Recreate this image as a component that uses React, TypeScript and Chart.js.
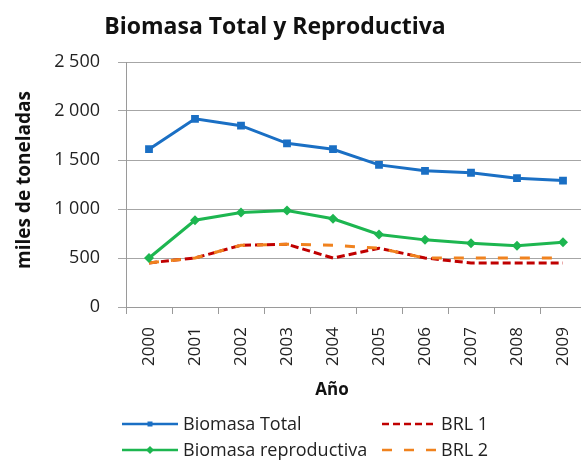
import React, { useEffect, useRef } from "react";
import { Chart, registerables } from "chart.js";

Chart.register(...registerables);

const years = ["2000", "2001", "2002", "2003", "2004", "2005", "2006", "2007", "2008", "2009"];
const biomasaTotal = [1610, 1920, 1850, 1670, 1610, 1450, 1390, 1370, 1315, 1290];
const biomasaReproductiva = [500, 885, 965, 985, 900, 740, 685, 650, 625, 660];
const brl1 = [450, 500, 630, 640, 500, 600, 500, 450, 450, 450];
const brl2 = [450, 500, 630, 640, 630, 600, 500, 500, 500, 500];
const yTicks = [0, 500, 1000, 1500, 2000, 2500];

const FONT = "'Open Sans', 'Noto Sans', sans-serif";
const BLUE = "#1A6FC4";
const GREEN = "#1DB650";
const RED = "#C00000";
const ORANGE = "#F0821E";

function fmt(v: number): string {
  const s = String(v);
  if (s.length > 3) return s.slice(0, s.length - 3) + " " + s.slice(s.length - 3);
  return s;
}

export default function App() {
  const ref = useRef<HTMLCanvasElement | null>(null);

  useEffect(() => {
    if (!ref.current) return;
    const chart = new Chart(ref.current, {
      type: "line",
      data: {
        labels: years,
        datasets: [
          {
            label: "Biomasa Total",
            data: biomasaTotal,
            borderColor: BLUE,
            backgroundColor: BLUE,
            borderWidth: 3,
            pointStyle: "rect",
            pointRadius: 5.5,
            pointBorderWidth: 0,
            order: 1,
          },
          {
            label: "Biomasa reproductiva",
            data: biomasaReproductiva,
            borderColor: GREEN,
            backgroundColor: GREEN,
            borderWidth: 3,
            pointStyle: "rectRot",
            pointRadius: 5,
            pointBorderWidth: 0,
            order: 2,
          },
          {
            label: "BRL 1",
            data: brl1,
            borderColor: RED,
            backgroundColor: RED,
            borderWidth: 3,
            borderDash: [8, 4],
            pointRadius: 0,
            order: 4,
          },
          {
            label: "BRL 2",
            data: brl2,
            borderColor: ORANGE,
            backgroundColor: ORANGE,
            borderWidth: 3,
            borderDash: [10, 12],
            pointRadius: 0,
            order: 3,
          },
        ],
      },
      options: {
        responsive: false,
        animation: false,
        layout: { padding: { left: 0, right: 14, top: 62, bottom: 0 } },
        plugins: {
          legend: { display: false },
          title: { display: false },
          tooltip: { enabled: false },
        },
        scales: {
          x: {
            offset: true,
            grid: {
              offset: true,
              drawOnChartArea: false,
              drawTicks: true,
              tickLength: 7,
              color: "#9a9a9a",
            },
            border: { color: "#9a9a9a", width: 1 },
            ticks: {
              minRotation: 90,
              maxRotation: 90,
              autoSkip: false,
              padding: 13,
              color: "#222",
              font: { family: FONT, size: 17 },
            },
            afterFit: (scale: any) => {
              scale.height = 153;
            },
          },
          y: {
            min: 0,
            max: 2500,
            afterBuildTicks: (scale: any) => {
              scale.ticks = yTicks.map((v) => ({ value: v }));
            },
            grid: {
              color: "#a6a6a6",
              drawTicks: true,
              tickLength: 8,
            },
            border: { color: "#9a9a9a", width: 1 },
            ticks: {
              padding: 18,
              color: "#222",
              font: { family: FONT, size: 18 },
              callback: (v: any) => fmt(Number(v)),
            },
            afterFit: (scale: any) => {
              scale.width = 126;
            },
          },
        },
      },
    });
    return () => chart.destroy();
  }, []);

  const legendText: React.CSSProperties = {
    position: "absolute",
    fontFamily: FONT,
    fontSize: 18,
    color: "#222",
    lineHeight: "22px",
    whiteSpace: "nowrap",
  };

  return (
    <div style={{ position: "absolute", left: 0, top: 0, width: 581, height: 460, overflow: "hidden", background: "#fff" }}>
      <canvas ref={ref} width={600} height={460} style={{ position: "absolute", left: 0, top: 0, width: 600, height: 460 }} />
      <div
        style={{
          position: "absolute",
          left: 0,
          width: 550,
          top: 8,
          textAlign: "center",
          fontFamily: FONT,
          fontWeight: "bold",
          fontSize: 23,
          lineHeight: "34px",
          color: "#111",
          whiteSpace: "nowrap",
        }}
      >
        Biomasa Total y Reproductiva
      </div>
      <div
        style={{
          position: "absolute",
          left: 23 - 110,
          top: 180 - 13,
          width: 220,
          textAlign: "center",
          transform: "rotate(-90deg)",
          fontFamily: FONT,
          fontWeight: "bold",
          fontSize: 19,
          lineHeight: "26px",
          color: "#111",
          whiteSpace: "nowrap",
        }}
      >
        miles de toneladas
      </div>
      <div
        style={{
          position: "absolute",
          left: 332 - 50,
          top: 389 - 12,
          width: 100,
          textAlign: "center",
          fontFamily: FONT,
          fontWeight: "bold",
          fontSize: 17,
          lineHeight: "24px",
          color: "#111",
        }}
      >
        Año
      </div>
      <svg style={{ position: "absolute", left: 0, top: 0 }} width={581} height={460}>
        <line x1={122} y1={424} x2={178} y2={424} stroke={BLUE} strokeWidth={2.5} />
        <rect x={147.5} y={421.5} width={5} height={5} fill={BLUE} />
        <line x1={122} y1={450} x2={178} y2={450} stroke={GREEN} strokeWidth={2.5} />
        <polygon points="150,446 154,450 150,454 146,450" fill={GREEN} />
        <line x1={382} y1={424} x2={437} y2={424} stroke={RED} strokeWidth={2.5} strokeDasharray="7 4" />
        <line x1={382} y1={450} x2={437} y2={450} stroke={ORANGE} strokeWidth={2.5} strokeDasharray="10 12" />
      </svg>
      <div style={{ ...legendText, left: 183, top: 412 }}>Biomasa Total</div>
      <div style={{ ...legendText, left: 183, top: 438 }}>Biomasa reproductiva</div>
      <div style={{ ...legendText, left: 441, top: 412 }}>BRL 1</div>
      <div style={{ ...legendText, left: 441, top: 438 }}>BRL 2</div>
    </div>
  );
}
